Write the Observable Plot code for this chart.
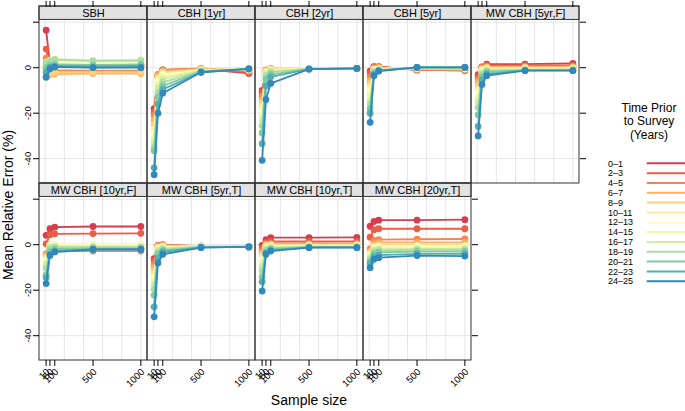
<!DOCTYPE html>
<html><head><meta charset="utf-8">
<script src="https://cdn.jsdelivr.net/npm/d3@7"></script>
<script src="https://cdn.jsdelivr.net/npm/@observablehq/plot@0.6"></script>
<style>
body{margin:0;background:#fff;font-family:"Liberation Sans",Arial,sans-serif}
#wrap{position:relative;width:685px;height:411px;overflow:hidden}
#wrap svg{position:absolute;left:0;top:0}
</style></head><body><div id="wrap"></div>
<script>
// ---- data ----
const sampleSizes = [10, 50, 100, 500, 1000];
const seriesLabels = ["0–1","2–3","4–5","6–7","8–9","10–11","12–13","14–15","16–17","18–19","20–21","22–23","24–25"];
const palette = ["#d53e4f","#ea5d47","#f7834d","#fdae61","#fecf7d","#feea9c","#ffffbf","#eef8a5","#d2ed9c","#abdda4","#7dcba5","#55afad","#3288bd"];
const panelNames = ["SBH","CBH [1yr]","CBH [2yr]","CBH [5yr]","MW CBH [5yr,F]","MW CBH [10yr,F]","MW CBH [5yr,T]","MW CBH [10yr,T]","MW CBH [20yr,T]"];
const xTicks = [10, 50, 100, 500, 1000];
const yTicks = [-40, -20, 0, 20];
const xGrid = [0, 200, 400, 600, 800, 1000];

// rows = series (0–1 ... 24–25), columns = sample sizes
const sbh = [
  [16.5, 1.5, 1.5, 1.2, 1.2],
  [8.2, 0.5, 0.8, 0.8, 0.8],
  [4.2, -1.5, -1.2, -1.3, -1.3],
  [1.0, -3.0, -2.8, -2.6, -2.6],
  [-2.0, -2.5, -2.2, -2.0, -2.0],
  [-1.0, 1.5, 1.8, 1.8, 1.8],
  [0.5, 2.0, 2.2, 2.0, 2.0],
  [1.5, 3.0, 3.5, 3.0, 3.2],
  [2.5, 3.2, 3.8, 3.2, 3.5],
  [2.0, 2.8, 3.5, 3.0, 3.0],
  [0.0, 1.0, 1.5, 1.2, 1.5],
  [-2.0, 0.2, 0.5, 0.2, 0.3],
  [-4.2, -0.5, 0.3, 0.0, 0.0]
];
const cbh1 = [
  [-18, -4, -1, -0.5, -2.5],
  [-19.5, -3.5, -1.2, -0.5, -2.0],
  [-21, -3, -1.0, -0.3, -1.5],
  [-23, -3.5, -1.5, -0.5, -1.2],
  [-25, -4, -2, -0.8, -1.0],
  [-27, -5, -2.5, -1, -0.8],
  [-29, -6, -3, -1, -0.8],
  [-31, -7.5, -4, -1.2, -0.7],
  [-33, -9, -5, -1.3, -0.6],
  [-35, -11, -6.5, -1.5, -0.6],
  [-36.5, -13, -8, -1.7, -0.5],
  [-44, -16, -9.5, -2, -0.5],
  [-47, -20, -11.2, -2, -0.5]
];
const cbh2 = [
  [-10, -1.5, -0.5, -0.5, -0.3],
  [-11, -1.2, -0.5, -0.5, -0.3],
  [-12.5, -1, -0.4, -0.5, -0.3],
  [-14, -1.2, -0.5, -0.5, -0.3],
  [-15.5, -1.5, -0.6, -0.5, -0.3],
  [-17, -1.8, -0.8, -0.5, -0.3],
  [-19, -2, -1, -0.5, -0.3],
  [-21, -2.5, -1.2, -0.5, -0.3],
  [-23, -3, -1.5, -0.5, -0.3],
  [-25.5, -3.5, -2, -0.6, -0.3],
  [-28.7, -5, -3, -0.6, -0.3],
  [-33.4, -8, -4, -0.6, -0.3],
  [-40.7, -14, -6.9, -0.6, -0.3]
];
const cbh5 = [
  [-1.5, 0.5, 0.5, -1.0, -1.2],
  [-2.5, 0.3, 0.3, -1.0, -1.2],
  [-4, 0.0, 0.2, -0.8, -1.0],
  [-5.7, -0.3, 0, -0.6, -0.8],
  [-7, -0.5, -0.2, -0.4, -0.5],
  [-8.5, -0.8, -0.3, -0.3, -0.3],
  [-10, -1.0, -0.5, -0.2, -0.2],
  [-12, -1.3, -0.6, 0, -0.1],
  [-14.4, -1.6, -0.8, 0, 0],
  [-16, -2, -1, 0.1, 0],
  [-18, -2.5, -1.2, 0.1, 0.1],
  [-20, -3, -1.4, 0.1, 0.1],
  [-24, -3.5, -1.5, 0.1, 0.1]
];
const mw5F = [
  [-3.1, 0.4, 1.6, 1.6, 1.9],
  [-4.0, 0.2, 1.0, 1.0, 1.0],
  [-5.0, 0.0, 0.6, 0.6, 0.6],
  [-6.4, -0.3, 0.3, 0.3, 0.3],
  [-8, -0.6, 0, 0, 0],
  [-9.5, -1, -0.3, -0.2, -0.2],
  [-11, -1.3, -0.5, -0.4, -0.4],
  [-13, -1.8, -0.8, -0.6, -0.6],
  [-15, -2.3, -1.0, -0.8, -0.8],
  [-17.4, -3, -1.3, -1.0, -1.0],
  [-20.7, -4, -2, -1.1, -1.1],
  [-25.8, -5.5, -2.8, -1.2, -1.2],
  [-30, -7.4, -3.5, -1.3, -1.3]
];
const mw10F = [
  [4.1, 7.0, 7.7, 8.0, 8.0],
  [0.4, 4.4, 4.8, 4.9, 5.0],
  [-4, -2.5, -2.8, -2.8, -2.8],
  [-4.5, -1.5, -1.5, -1.5, -1.5],
  [-5.5, -0.5, -0.3, -0.3, -0.3],
  [-6, 0, 0.2, 0.2, 0.2],
  [-7, -0.3, 0, 0, 0],
  [-8, -0.8, -0.5, -0.5, -0.5],
  [-9, -1.2, -0.8, -0.8, -0.8],
  [-10.5, -1.8, -1.2, -1.2, -1.2],
  [-13.4, -3, -2, -1.6, -1.6],
  [-14.5, -4, -2.8, -2.0, -2.0],
  [-17.1, -4.7, -3.2, -2.1, -2.1]
];
const mw5T = [
  [-6.1, -0.5, -0.3, -0.7, -0.8],
  [-7, -0.3, 0, -0.6, -0.8],
  [-8.5, -0.5, -0.2, -0.6, -0.8],
  [-10, -0.8, -0.4, -0.6, -0.8],
  [-11.5, -1.0, -0.6, -0.7, -0.8],
  [-13, -1.3, -0.8, -0.7, -0.9],
  [-14.5, -1.6, -1.0, -0.8, -0.9],
  [-16, -2.0, -1.3, -0.8, -0.9],
  [-17.5, -2.5, -1.6, -0.9, -1.0],
  [-19.5, -3.2, -2.0, -1.0, -1.0],
  [-22.2, -4.2, -2.6, -1.1, -1.0],
  [-27.3, -5.8, -3.2, -1.2, -1.0],
  [-31.7, -8.0, -4.2, -1.3, -1.0]
];
const mw10T = [
  [-0.3, 2.2, 3.1, 3.1, 3.2],
  [-1.5, 1.0, 1.4, 1.4, 1.5],
  [-2.5, 0.3, 0.6, 0.6, 0.6],
  [-3.5, 0, 0.2, 0.2, 0.2],
  [-4.5, -0.3, 0, 0, 0],
  [-5.5, -0.6, -0.3, -0.2, -0.2],
  [-6.5, -1.0, -0.5, -0.4, -0.4],
  [-8, -1.4, -0.8, -0.6, -0.6],
  [-9.5, -1.8, -1.1, -0.8, -0.8],
  [-11.5, -2.4, -1.5, -1.0, -1.0],
  [-14.2, -3.2, -2.0, -1.1, -1.1],
  [-16.3, -3.7, -2.4, -1.2, -1.2],
  [-20.4, -4.2, -2.8, -1.3, -1.3]
];
const mw20T = [
  [8.1, 10.2, 10.8, 10.8, 11.0],
  [3.3, 6.6, 7.0, 7.0, 7.0],
  [-1.8, 1.9, 2.2, 2.4, 2.5],
  [-3.0, 0.5, 1.0, 1.0, 1.0],
  [-3.5, -0.5, -0.2, -0.2, -0.2],
  [-4.0, -1.0, -0.5, -0.4, -0.4],
  [-4.5, -1.3, -0.8, -0.6, -0.6],
  [-5.0, -1.8, -1.3, -1.2, -1.2],
  [-5.5, -2.5, -2.0, -1.8, -1.8],
  [-6.5, -3.2, -2.6, -2.2, -2.2],
  [-7.5, -4.0, -3.4, -3.0, -3.0],
  [-8.3, -5.3, -4.6, -4.0, -4.0],
  [-10.1, -6.4, -5.7, -4.8, -5.0]
];
const panelValues = [sbh, cbh1, cbh2, cbh5, mw5F, mw10F, mw5T, mw10T, mw20T];

// ---- build tidy table ----
const records = [];
panelNames.forEach((name, i) => {
  const col = i % 5, row = Math.floor(i / 5);
  panelValues[i].forEach((vals, s) => vals.forEach((v, k) =>
    records.push({panel: name, col, row, series: seriesLabels[s], x: sampleSizes[k], y: v})));
});
const panels = panelNames.map((name, i) => ({panel: name, col: i % 5, row: Math.floor(i / 5)}));
// bottom-row x ticks (only for panels that exist in the bottom row)
const bottomTicks = panels.filter(p => p.row === 1).flatMap(p => xTicks.map(t => ({col: p.col, row: p.row, t})));

const yTop = 21.0, yBottom = -50.9, stripTop = 26.9;
const xLo = -59.4, xHi = 1069.4;
const pxPerUnit = 2.285;

const seriesMarks = seriesLabels.flatMap(s => {
  const d = records.filter(r => r.series === s);
  return [
    Plot.line(d, {x: "x", y: "y", z: "panel", stroke: "series", strokeWidth: 1.8, fx: "col", fy: "row"}),
    Plot.dot(d, {x: "x", y: "y", fill: "series", r: 3.4, fx: "col", fy: "row"})
  ];
});

const chart = Plot.plot({
  width: 685, height: 411,
  marginLeft: 37.3, marginRight: 104.3, marginTop: 5.6, marginBottom: 50,
  style: {fontFamily: '"Liberation Sans", Arial, sans-serif', fontSize: "9.5px", background: "transparent", color: "#000"},
  fx: {domain: [0, 1, 2, 3, 4], padding: 0, axis: null},
  fy: {domain: [0, 1], padding: 0, axis: null},
  x: {domain: [xLo, xHi], axis: null},
  y: {domain: [yBottom, stripTop], axis: null},
  color: {domain: seriesLabels, range: palette},
  marks: [
    Plot.ruleX(xGrid, {y1: yBottom, y2: yTop, stroke: "#e6e6e6", strokeWidth: 1}),
    Plot.ruleY(yTicks, {x1: xLo, x2: xHi, stroke: "#e6e6e6", strokeWidth: 1}),
    Plot.rect(panels, {x1: xLo, x2: xHi, y1: yTop, y2: stripTop, fill: "#e2e2e2", stroke: "#333", strokeWidth: 1, fx: "col", fy: "row"}),
    Plot.text(panels, {x: (xLo + xHi) / 2, y: (yTop + stripTop) / 2, text: "panel", fontSize: 11, fill: "#000", fx: "col", fy: "row"}),
    ...seriesMarks,
    Plot.rect(panels, {x1: xLo, x2: xHi, y1: yBottom, y2: stripTop, fill: "none", stroke: "#333", strokeWidth: 1, fx: "col", fy: "row"}),
    Plot.axisY({anchor: "left", ticks: yTicks, tickFormat: d => d === 20 ? "" : String(d), tickRotate: -90, tickSize: 6, tickPadding: 3, label: null, facetAnchor: "left"}),
    Plot.axisY({anchor: "right", ticks: yTicks, tickFormat: () => "", tickSize: 6, label: null, facetAnchor: "right-empty"}),
    Plot.axisX({anchor: "top", ticks: xTicks, tickFormat: () => "", tickSize: 6, label: null, facetAnchor: "top"}),
    // bottom axis ticks and rotated labels, drawn only under real bottom-row panels
    Plot.ruleX(bottomTicks, {x: "t", y1: yBottom, y2: yBottom - 6 / pxPerUnit, stroke: "#000", strokeWidth: 1, fx: "col", fy: "row"}),
    Plot.text(bottomTicks, {x: "t", y: yBottom - 10 / pxPerUnit, text: d => String(d.t), rotate: -45, textAnchor: "end", lineAnchor: "middle", dx: 2, fontSize: 9.5, fill: "#000", fx: "col", fy: "row"})
  ]
});
const wrap = document.getElementById("wrap");
wrap.appendChild(chart);

// ---- titles and legend overlay ----
const svg = d3.select(wrap).append("svg").attr("width", 685).attr("height", 411)
  .style("font-family", '"Liberation Sans", Arial, sans-serif');
svg.append("text").attr("transform", "translate(13,205) rotate(-90)")
  .attr("text-anchor", "middle").attr("font-size", 14).text("Mean Relative Error (%)");
svg.append("text").attr("x", 309).attr("y", 405).attr("text-anchor", "middle")
  .attr("font-size", 14).text("Sample size");
const titleLines = ["Time Prior", "to Survey", "(Years)"];
svg.selectAll("text.lt").data(titleLines).join("text").attr("class", "lt")
  .attr("x", 649).attr("y", (d, i) => 112 + i * 13.3).attr("text-anchor", "middle")
  .attr("font-size", 12).text(d => d);
const lg = svg.selectAll("g.li").data(seriesLabels).join("g").attr("class", "li")
  .attr("transform", (d, i) => `translate(0,${163.3 + i * 9.83})`);
lg.append("text").attr("x", 608).attr("y", 3.2).attr("font-size", 9).text(d => d);
lg.append("line").attr("x1", 646.7).attr("x2", 690).attr("y1", 0).attr("y2", 0)
  .attr("stroke", (d, i) => palette[i]).attr("stroke-width", 2);
</script></body></html>
